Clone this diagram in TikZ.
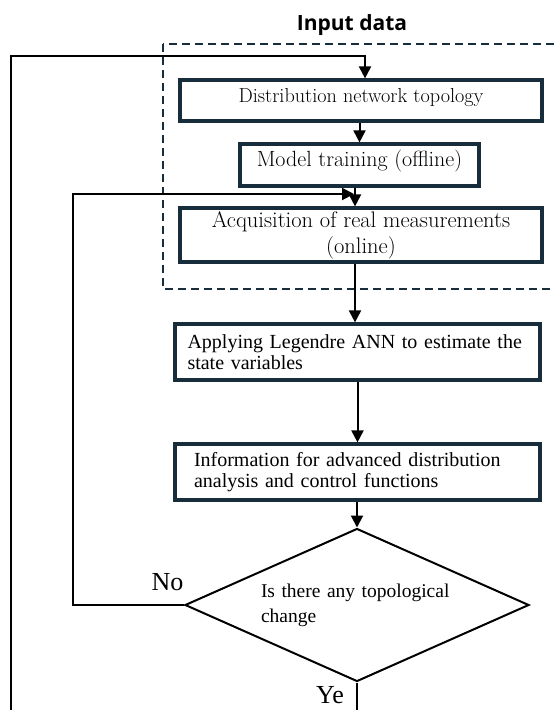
\documentclass[tikz,border=0pt]{standalone}
\usepackage{fontspec}
\usetikzlibrary{arrows.meta,shapes.geometric,calc}

\newfontfamily\titlefont{Open Sans}
\newfontfamily\timesfont{Liberation Serif}

\definecolor{boxline}{RGB}{24,45,60}

\tikzset{
  stepbox/.style={rectangle, draw=boxline, line width=3.2pt, inner sep=0pt},
  inputtext/.style={align=center},
  proctext/.style={font=\timesfont\fontsize{20}{21}\selectfont, align=left},
  flow/.style={draw=black, line width=2pt, -{Triangle[length=12pt,width=12pt]}},
  link/.style={draw=black, line width=2pt},
  groupframe/.style={draw=boxline, line width=2.2pt, dash pattern=on 8pt off 5pt},
}

\begin{document}
\begin{tikzpicture}[x=1pt,y=-1pt]
  \path[use as bounding box] (0,0) rectangle (554,710);
  \clip (0,0) rectangle (554,710);

  % title and dashed group around the input steps
  \node[font=\titlefont\bfseries\fontsize{21}{24}\selectfont, anchor=base, inner sep=0pt]
    (title) at (352,30) {Input data};
  \draw[groupframe] (163,44) rectangle (575,289);

  % process boxes
  \node[stepbox, inputtext, font=\rmfamily\fontsize{20.2}{24}\selectfont,
        text height=14pt, text depth=11pt, minimum width=362pt, minimum height=41pt]
    (topo) at (361,100.5) {Distribution network topology};
  \node[stepbox, inputtext, font=\rmfamily\fontsize{22}{24}\selectfont,
        text height=16.5pt, text depth=14.5pt, minimum width=239pt, minimum height=42pt]
    (train) at (359.5,165) {Model training (offline)};
  \node[stepbox, inputtext, font=\rmfamily\fontsize{22.5}{26}\selectfont,
        minimum width=362pt, minimum height=54pt]
    (acq) at (361,235) {Acquisition of real measurements\\(online)};
  \node[stepbox, proctext, text width=340pt, minimum width=365pt, minimum height=56pt]
    (apply) at (357.5,352) {Applying Legendre ANN to estimate the\\state variables};
  \node[stepbox, proctext, text width=327pt, minimum width=365pt, minimum height=56pt]
    (info) at (357.5,472) {Information for advanced distribution\\analysis and control functions};

  % decision
  \node[diamond, draw=black, line width=2pt, aspect=2.25, inner sep=0pt,
        minimum width=344pt, minimum height=153pt,
        font=\timesfont\fontsize{19.5}{25}\selectfont, align=left, text width=192pt]
    (decision) at (357,605) {Is there any topological\\change};

  \node[font=\timesfont\fontsize{26}{28}\selectfont, anchor=base, inner sep=0pt]
    (nolabel) at (167.5,590) {No};
  \node[font=\timesfont\fontsize{26}{28}\selectfont, anchor=base, inner sep=0pt]
    (yeslabel) at (330,703) {Ye};

  % helper points for the loops
  \coordinate (outerEnd) at (11,710);
  \coordinate (outerTop) at (11,56);
  \coordinate (merge) at (355,194);
  \coordinate (noTurn) at (73,194);
  \coordinate (yesEnd) at (357,710);

  % connectors
  \draw[flow] (outerEnd) -- (outerTop) -| ([xshift=4pt]topo.north);
  \draw[flow] (topo.south -| train.north) -- (train.north);
  \draw[flow] (train.south -| merge) -- (acq.north -| merge);
  \draw[flow] (decision.west) -| (noTurn) -- ([xshift=-1pt]merge);
  \draw[flow] (acq.south -| merge) -- (apply.north -| merge);
  \draw[flow] (apply.south -| info.north) -- (info.north);
  \draw[flow] (info.south -| decision.north) -- (decision.north);
  \draw[link] (decision.south) -- (yesEnd);
\end{tikzpicture}
\end{document}
